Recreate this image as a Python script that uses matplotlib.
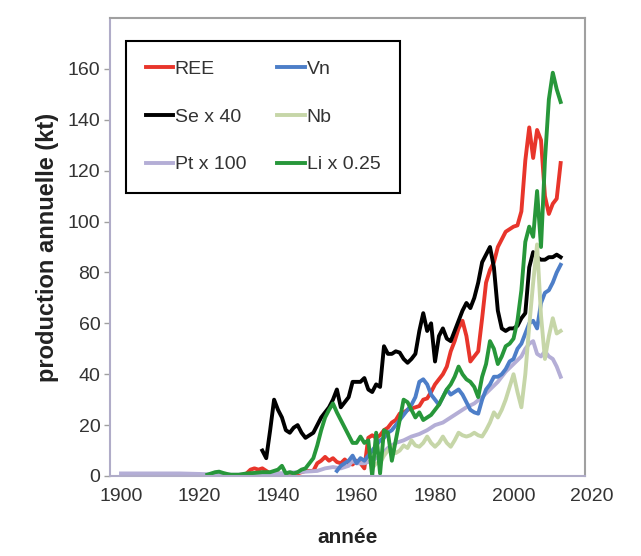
import matplotlib
matplotlib.use("Agg")
import matplotlib.pyplot as plt

plt.rcParams['font.family'] = ['Liberation Sans', 'DejaVu Sans']

# REE
ree_years = [1932, 1933, 1934, 1935, 1936, 1937, 1938, 1940, 1942, 1945, 1947, 1949,
             1950, 1951, 1952, 1953, 1954, 1955, 1956, 1957, 1958, 1959, 1960, 1961,
             1962, 1963, 1964, 1965, 1966, 1967, 1968, 1969, 1970, 1971, 1972, 1973,
             1974, 1975, 1976, 1977, 1978, 1979, 1980, 1981, 1982, 1983, 1984, 1985,
             1986, 1987, 1988, 1989, 1990, 1991, 1992, 1993, 1994, 1995, 1996, 1997,
             1998, 1999, 2000, 2001, 2002, 2003, 2004, 2005, 2006, 2007, 2008, 2009,
             2010, 2011, 2012]
ree_vals = [1, 2.5, 3, 2.5, 3, 2, 1, 1, 0.5, 1, 2, 2,
            5, 6, 7.5, 6, 7, 5.5, 5, 6.5, 5, 4.5, 6, 5,
            3, 15, 16, 15, 16, 18, 19, 21, 22, 24.5, 25, 26,
            26.5, 27, 27.5, 30, 30.5, 33, 36, 38, 40, 43, 49, 53,
            58, 61, 55, 45, 47, 49, 62, 76, 81, 84, 90, 93,
            96, 97, 98, 98.5, 104, 124, 137, 125, 136, 132, 110, 103,
            107, 109, 123]

# Vn
vn_years = list(range(1955, 2013))
vn_vals = [2, 4, 5, 6, 8, 5, 7, 6, 8, 10, 12, 14, 15, 17, 18, 20, 22, 24, 26, 28,
           31, 37, 38, 36, 32, 30, 28, 31, 34, 32, 33, 34, 32, 29, 26, 25, 24.5, 30,
           34, 36, 39, 39, 40, 42, 45, 46, 50, 52, 56, 60, 61, 58, 68, 72, 73, 76,
           80, 83]

# Se x 40
se_years = list(range(1936, 2013))
se_vals = [10, 7, 18, 30, 26, 23, 18, 17, 19, 20, 17, 15, 16, 17, 20, 23, 25, 27,
           30, 34, 27, 29, 31, 37, 37, 37, 38.5, 34, 33, 36, 35, 51, 48, 48, 49,
           48.5, 46, 44.5, 46, 48, 57, 64, 57, 60, 45, 55, 58, 54, 53, 57, 61, 65,
           68, 66, 70, 76, 84, 87, 90, 82, 65, 58, 57, 58, 58, 59, 62, 64, 82, 88,
           86, 85, 85, 86, 86, 87, 86]

# Nb
nb_years = list(range(1964, 2013))
nb_vals = [3, 5, 5, 8, 10, 11.5, 9, 10, 12, 11, 14, 12, 11.5, 13, 15.5, 13, 11.5,
           13, 15.5, 13, 11.5, 14, 17, 16, 15.5, 16, 17, 16, 15.5, 18, 21, 25, 23,
           26, 30, 35, 40, 33, 27, 40, 59, 76, 91, 63, 46, 55, 62, 56, 57]

# Pt x 100
pt_years = [1900, 1905, 1910, 1915, 1920, 1925, 1930, 1935, 1940, 1945, 1950, 1952,
            1954, 1956, 1958, 1959, 1960, 1962, 1964, 1966, 1968, 1970, 1972, 1974,
            1976, 1978, 1980, 1982, 1984, 1986, 1988, 1990, 1992, 1994, 1996, 1998,
            2000, 2002, 2003, 2004, 2005, 2006, 2007, 2008, 2009, 2010, 2011, 2012]
pt_vals = [1, 1, 1, 1, 0.8, 0.5, 0.5, 0.8, 1, 1.5, 2, 3,
           3.5, 3, 4, 6, 5, 5, 6, 8, 11, 13, 14, 15.5,
           16.5, 18, 20, 21, 23, 25, 27, 28.5, 31, 34, 37, 41,
           44, 47, 50, 52, 53, 48, 47, 49, 47, 46, 43, 39]

# Li x 0.25
li_years = [1922, 1923, 1924, 1925, 1926, 1927, 1928, 1930, 1932, 1934, 1936, 1938,
            1940, 1941, 1942, 1943, 1944, 1945, 1946, 1947, 1948, 1949, 1950, 1951,
            1952, 1953, 1954, 1955, 1956, 1957, 1958, 1959, 1960, 1961, 1962, 1963,
            1964, 1965, 1966, 1967, 1968, 1969, 1970, 1971, 1972, 1973, 1974, 1975,
            1976, 1977, 1978, 1979, 1980, 1981, 1982, 1983, 1984, 1985, 1986, 1987,
            1988, 1989, 1990, 1991, 1992, 1993, 1994, 1995, 1996, 1997, 1998, 1999,
            2000, 2001, 2002, 2003, 2004, 2005, 2006, 2007, 2008, 2009, 2010, 2011,
            2012]
li_vals = [0.5, 1, 1.5, 1.7, 1.2, 0.8, 0.5, 0.5, 1, 1.2, 1.5, 1.5,
           2.5, 4, 1, 1.5, 1, 1.5, 2.5, 3, 5, 7, 12, 18,
           23, 26, 28.5, 25, 22, 19, 16, 13, 13, 15.5, 13, 14,
           0, 17, 1, 18, 17, 6, 14, 22, 30, 29, 26, 23,
           25, 22, 23, 24, 26, 28, 31, 34, 36, 39, 43, 40,
           38, 37, 35, 31, 39, 44, 53, 50, 44, 47, 51, 52,
           54, 61, 73, 92, 98, 94, 112, 90, 124, 148, 158.5, 152,
           147]

series = [
    ("REE", ree_years, ree_vals, "#e8352b"),
    ("Se x 40", se_years, se_vals, "#000000"),
    ("Pt x 100", pt_years, pt_vals, "#b4aed6"),
    ("Vn", vn_years, vn_vals, "#4d7ec8"),
    ("Nb", nb_years, nb_vals, "#c6d6a8"),
    ("Li x 0.25", li_years, li_vals, "#27973a"),
]

fig = plt.figure(figsize=(6.41, 5.56), dpi=100)
ax = fig.add_axes([0.1716, 0.1439, 0.741, 0.8237])

for label, xs, ys, color in series:
    ax.plot(xs, ys, color=color, lw=2.8, label=label, solid_joinstyle='round')

ax.set_xlim(1897.2, 2018.2)
ax.set_ylim(0, 180)
ax.set_xticks(range(1900, 2020, 20))
ax.set_yticks(range(0, 161, 20))

for sp in ax.spines.values():
    sp.set_color("#a0a0a0")
    sp.set_linewidth(1.5)
ax.spines['left'].set_color("#b0acc8")
ax.spines['bottom'].set_color("#b0acc8")

ax.tick_params(axis='x', length=0, pad=9, labelsize=14, labelcolor="#333333")
ax.tick_params(axis='y', length=4, width=1, color="#a0a0a0", pad=3,
               labelsize=14, labelcolor="#333333")

# the 2020 label hangs just past the right edge of the frame
ax.annotate("2020", xy=(2020, 0), xycoords=ax.get_xaxis_transform(),
            xytext=(0, -9), textcoords='offset points', ha='center', va='top',
            fontsize=14, color="#333333", annotation_clip=False)

ax.set_xlabel("année", fontsize=15, fontweight='bold', color="#222222", labelpad=16)
ax.set_ylabel("production annuelle (kt)", fontsize=17, fontweight='bold',
              color="#222222", labelpad=6)

leg = ax.legend(loc='upper left', bbox_to_anchor=(0.034, 0.95), borderaxespad=0,
                ncol=2, fontsize=14, handlelength=1.4, handletextpad=0.1,
                columnspacing=1.6, labelspacing=1.55, borderpad=1.0,
                fancybox=False, framealpha=1)
leg.get_frame().set_edgecolor("black")
leg.get_frame().set_linewidth(1.5)
for t in leg.get_texts():
    t.set_color("#333333")

fig.savefig("out.png", dpi=100)
